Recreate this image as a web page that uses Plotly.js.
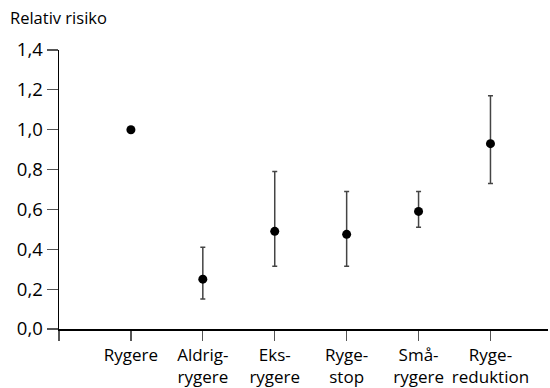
<!DOCTYPE html>
<html>
<head>
<meta charset="utf-8">
<script src="https://cdn.plot.ly/plotly-3.0.1.min.js"></script>
<style>html,body{margin:0;padding:0;background:#fff}#chart{width:550px;height:388px}</style>
</head>
<body>
<div id="chart"></div>
<script>
var categories = ["Rygere", "Aldrig-<br>rygere", "Eks-<br>rygere", "Ryge-<br>stop", "Små-<br>rygere", "Ryge-<br>reduktion"];
var relRisk = [1.0, 0.25, 0.49, 0.475, 0.59, 0.93];
var upper = [null, 0.41, 0.79, 0.69, 0.69, 1.17];
var lower = [null, 0.15, 0.315, 0.315, 0.51, 0.73];
var yTicks = [0, 0.2, 0.4, 0.6, 0.8, 1.0, 1.2, 1.4];

var xIdx = categories.map(function(c, i){ return i; });
var errPlus = relRisk.map(function(v, i){ return upper[i] === null ? 0 : upper[i] - v; });
var errMinus = relRisk.map(function(v, i){ return lower[i] === null ? 0 : v - lower[i]; });

var trace = {
  x: xIdx, y: relRisk, type: 'scatter', mode: 'markers',
  marker: {color: '#000', size: 9},
  error_y: {type: 'data', symmetric: false, array: errPlus, arrayminus: errMinus,
            color: '#444', thickness: 1.5, width: 2.5},
  hoverinfo: 'skip', showlegend: false
};

var fontFam = '"Open Sans", sans-serif';
var layout = {
  width: 550, height: 388,
  margin: {l: 59, r: 2, t: 49.5, b: 58.5},
  paper_bgcolor: '#fff', plot_bgcolor: '#fff',
  separators: ', ',
  font: {family: fontFam, size: 17, color: '#000'},
  title: {text: 'Relativ risiko', x: 10/550, xref: 'container', xanchor: 'left',
          yref: 'container', y: 1 - 18/388, yanchor: 'middle',
          font: {family: fontFam, size: 16.5, color: '#000'}},
  xaxis: {range: [-1, 5.8], tickmode: 'array', tickvals: [-1].concat(xIdx),
          ticktext: [''].concat(categories), showgrid: false, zeroline: false,
          showline: true, linecolor: '#000', linewidth: 1.5,
          ticks: 'outside', ticklen: 10, tickwidth: 1.2, tickcolor: '#555',
          tickfont: {size: 17}, fixedrange: true},
  yaxis: {range: [0, 1.4], tickmode: 'array', tickvals: yTicks,
          tickformat: '.1f', showgrid: false, zeroline: false,
          showline: true, linecolor: '#000', linewidth: 1.5,
          ticks: 'outside', ticklen: 11, tickwidth: 1.2, tickcolor: '#555',
          ticklabelstandoff: 0, tickfont: {size: 18.5}, fixedrange: true}
};
Plotly.newPlot('chart', [trace], layout, {displayModeBar: false, staticPlot: true});
</script>
</body>
</html>
